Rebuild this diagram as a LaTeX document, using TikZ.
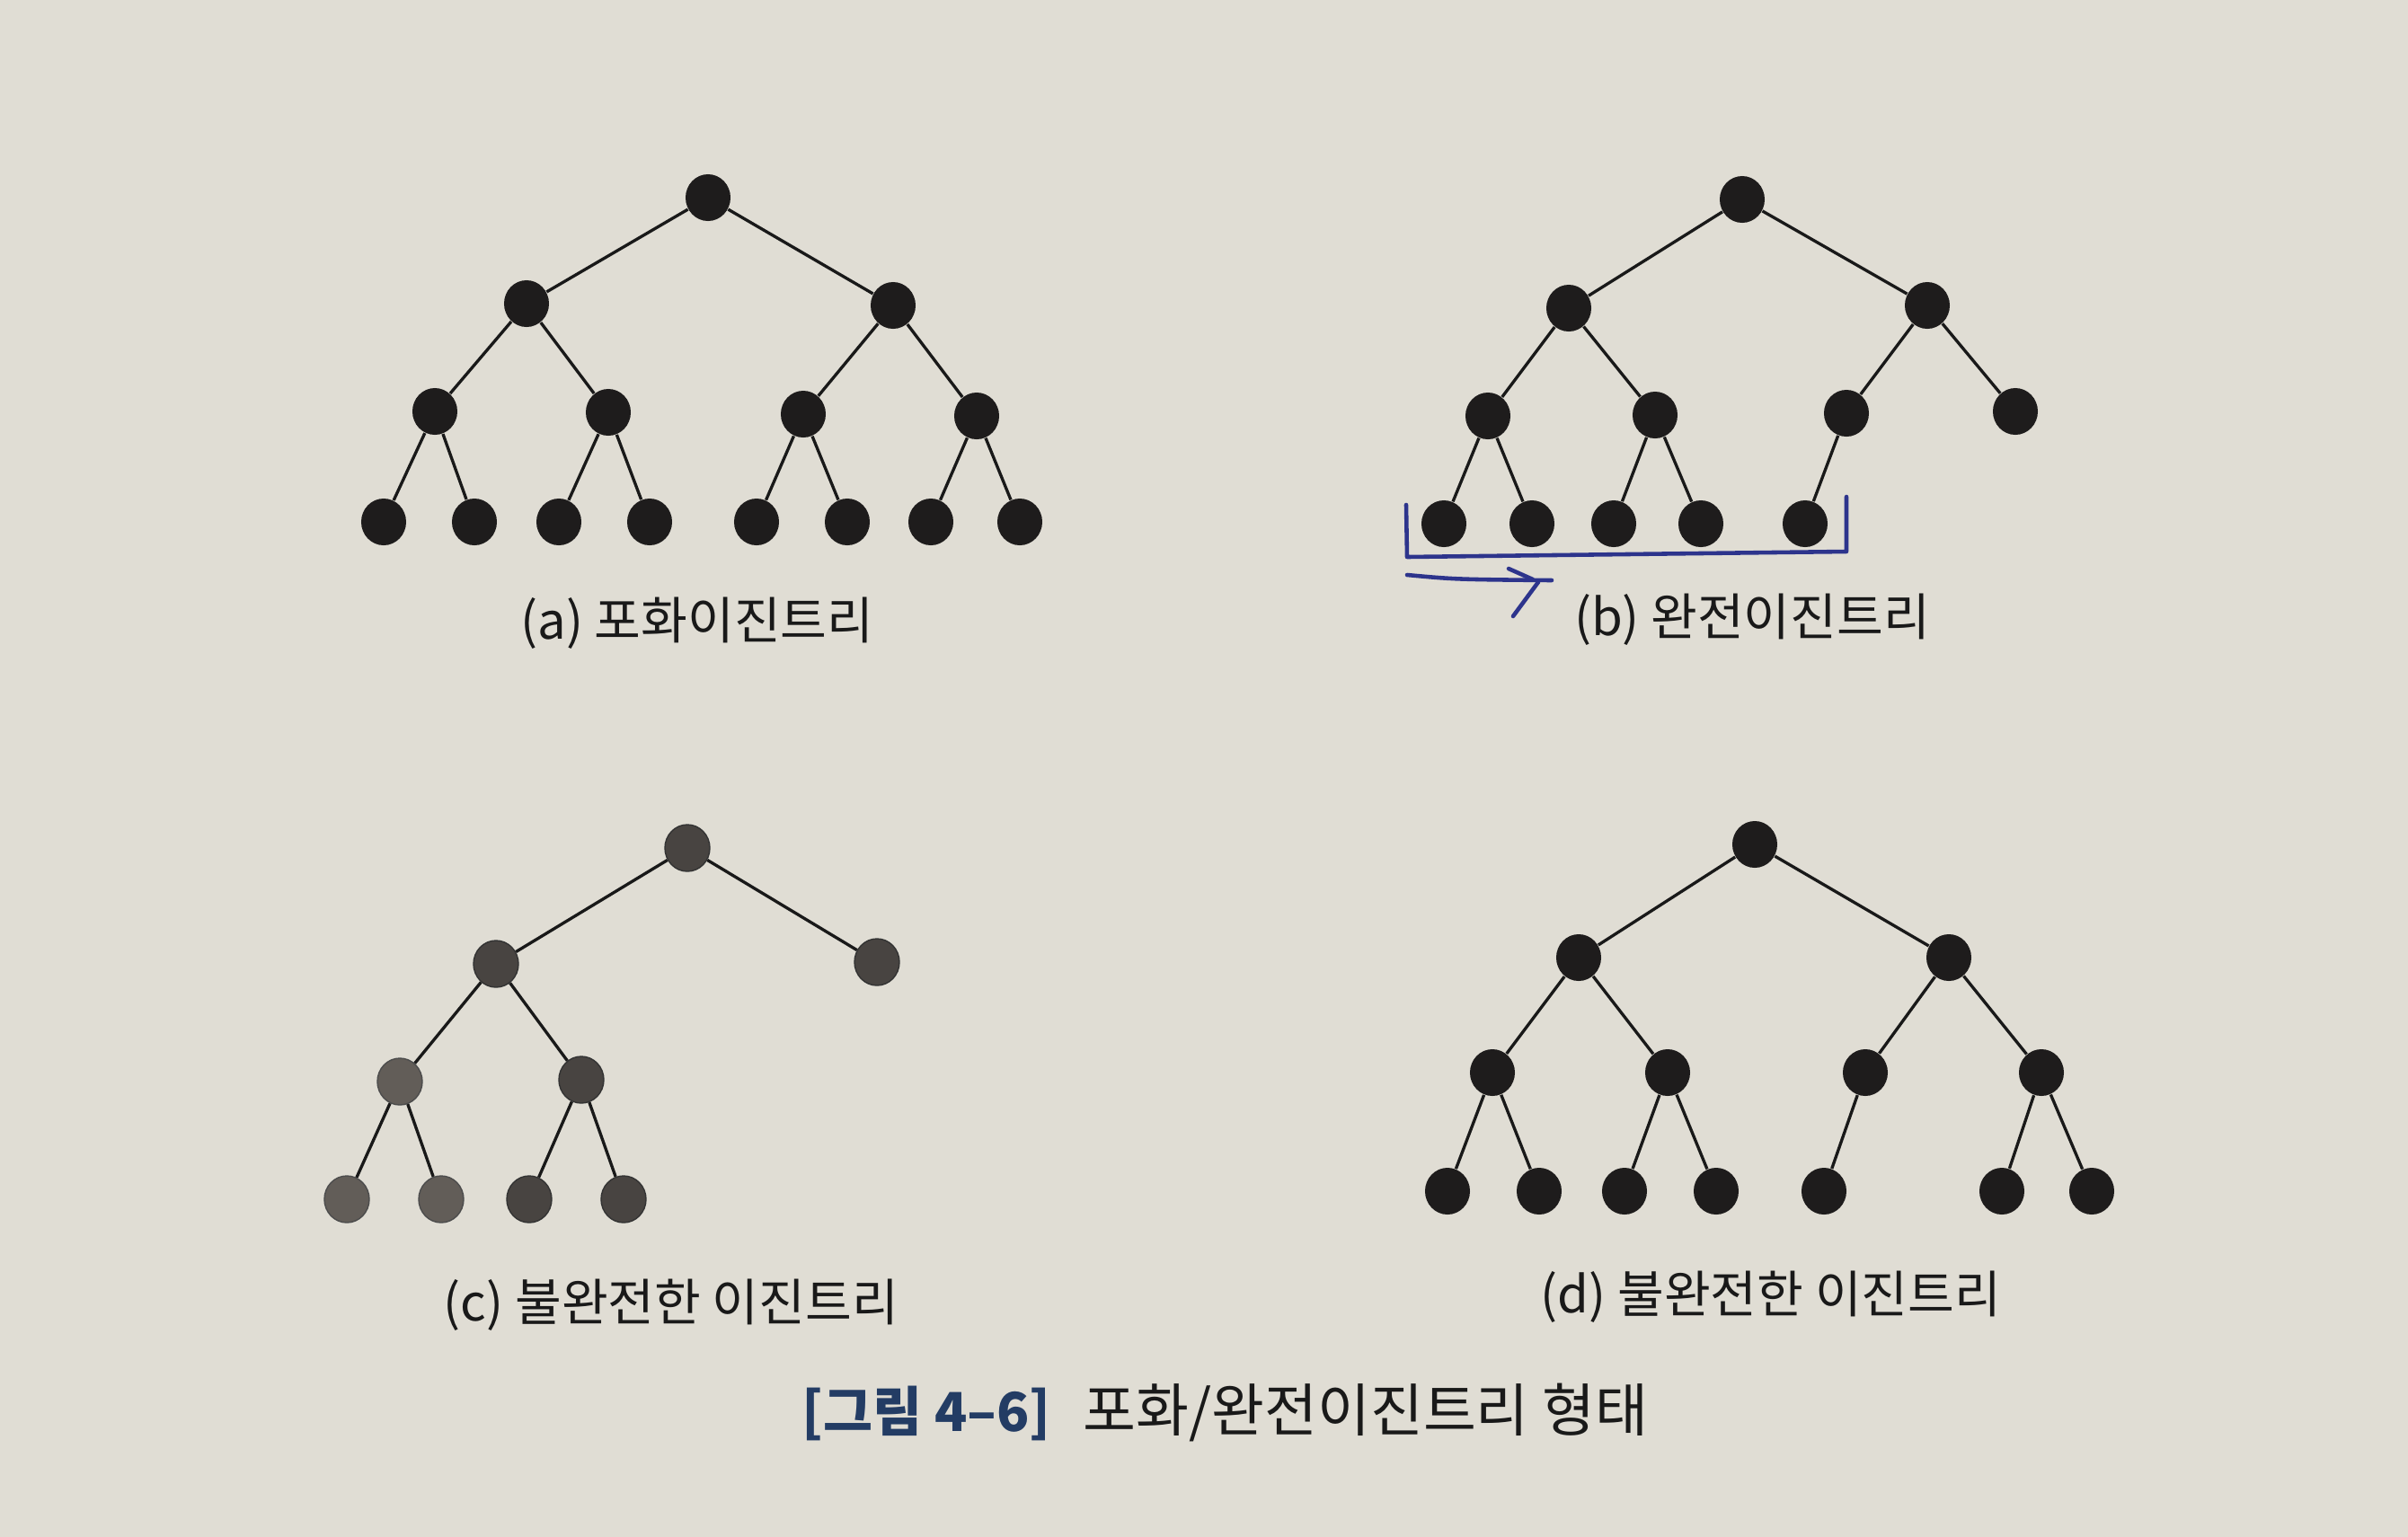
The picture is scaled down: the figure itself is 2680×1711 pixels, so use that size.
\documentclass[tikz,border=0pt]{standalone}
\usepackage{fontspec}
\usetikzlibrary{shapes.geometric}
\newfontfamily\kr{Noto Sans CJK KR}
\definecolor{paper}{RGB}{224,221,212}
\definecolor{nodeblack}{RGB}{30,28,28}
\definecolor{nodegrey}{RGB}{72,68,65}
\definecolor{nodegreyl}{RGB}{98,93,88}
\definecolor{pen}{RGB}{45,52,140}
\definecolor{capblue}{RGB}{35,60,100}
\begin{document}
\begin{tikzpicture}[x=0.01cm,y=-0.01cm,
  tn/.style={ellipse,fill=nodeblack,minimum width=0.5cm,minimum height=0.52cm,inner sep=0pt},
  gn/.style={tn,fill=nodegrey,draw=black!80,line width=0.4pt},
  gl/.style={tn,fill=nodegreyl,draw=black!70,line width=0.4pt},
  edge/.style={draw=black!90,line width=0.95pt},
  captext/.style={font=\kr\fontsize{16}{18}\selectfont,text=black!90,inner sep=0pt},
  penline/.style={draw=pen,line width=1.3pt,line cap=round,line join=round}]
\fill[paper] (0,0) rectangle (2680,1711);
\useasboundingbox (0,0) rectangle (2680,1711);

% ---------- (a) ----------
\node[tn] (a0) at (788,220) {};
\node[tn] (a1) at (586,338) {};
\node[tn] (a2) at (994,340) {};
\node[tn] (a3) at (484,458) {};
\node[tn] (a4) at (677,459) {};
\node[tn] (a5) at (894,461) {};
\node[tn] (a6) at (1087,463) {};
\node[tn] (a7) at (427,581) {};
\node[tn] (a8) at (528,581) {};
\node[tn] (a9) at (622,581) {};
\node[tn] (a10) at (723,581) {};
\node[tn] (a11) at (842,581) {};
\node[tn] (a12) at (943,581) {};
\node[tn] (a13) at (1036,581) {};
\node[tn] (a14) at (1135,581) {};
\foreach \p/\c in {a0/a1,a0/a2,a1/a3,a1/a4,a2/a5,a2/a6,a3/a7,a3/a8,a4/a9,a4/a10,a5/a11,a5/a12,a6/a13,a6/a14}
  \draw[edge] (\p) -- (\c);
\node[captext] (capa) at (776,694) {(a) 포화이진트리};

% ---------- (b) ----------
\node[tn] (b0) at (1939,222) {};
\node[tn] (b1) at (1746,343) {};
\node[tn] (b2) at (2145,340) {};
\node[tn] (b3) at (1656,463) {};
\node[tn] (b4) at (1842,462) {};
\node[tn] (b5) at (2055,460) {};
\node[tn] (b6) at (2243,458) {};
\node[tn] (b7) at (1607,583) {};
\node[tn] (b8) at (1705,583) {};
\node[tn] (b9) at (1796,583) {};
\node[tn] (b10) at (1893,583) {};
\node[tn] (b11) at (2009,583) {};
\foreach \p/\c in {b0/b1,b0/b2,b1/b3,b1/b4,b2/b5,b2/b6,b3/b7,b3/b8,b4/b9,b4/b10,b5/b11}
  \draw[edge] (\p) -- (\c);
\node[captext] (capb) at (1950,690) {(b) 완전이진트리};

% hand-drawn blue bracket and arrow
\coordinate (br1) at (1565,562);
\coordinate (br2) at (1566,620);
\coordinate (br3) at (2055,614);
\coordinate (br4) at (2055,553);
\draw[penline] (br1) -- (br2) -- (br3) -- (br4);
\coordinate (ar1) at (1566,640);
\coordinate (ar2) at (1727,646);
\coordinate (ab1) at (1679,633);
\coordinate (ab2) at (1706,645);
\coordinate (ab3) at (1712,648);
\coordinate (ab4) at (1684,686);
\draw[penline] (ar1) .. controls (1620,645) .. (ar2);
\draw[penline] (ab1) -- (ab2);
\draw[penline] (ab3) -- (ab4);

% ---------- (c) ----------
\node[gn] (c0) at (765,944) {};
\node[gn] (c1) at (552,1073) {};
\node[gn] (c2) at (976,1071) {};
\node[gl] (c3) at (445,1204) {};
\node[gn] (c4) at (647,1202) {};
\node[gl] (c5) at (386,1335) {};
\node[gl] (c6) at (491,1335) {};
\node[gn] (c7) at (589,1335) {};
\node[gn] (c8) at (694,1335) {};
\foreach \p/\c in {c0/c1,c0/c2,c1/c3,c1/c4,c3/c5,c3/c6,c4/c7,c4/c8}
  \draw[edge] (\p) -- (\c);
\node[captext] (capc) at (747,1453) {(c) 불완전한 이진트리};

% ---------- (d) ----------
\node[tn] (d0) at (1953,940) {};
\node[tn] (d1) at (1757,1066) {};
\node[tn] (d2) at (2169,1066) {};
\node[tn] (d3) at (1661,1194) {};
\node[tn] (d4) at (1856,1194) {};
\node[tn] (d5) at (2076,1194) {};
\node[tn] (d6) at (2272,1194) {};
\node[tn] (d7) at (1611,1326) {};
\node[tn] (d8) at (1713,1326) {};
\node[tn] (d9) at (1808,1326) {};
\node[tn] (d10) at (1910,1326) {};
\node[tn] (d11) at (2030,1326) {};
\node[tn] (d12) at (2228,1326) {};
\node[tn] (d13) at (2328,1326) {};
\foreach \p/\c in {d0/d1,d0/d2,d1/d3,d1/d4,d2/d5,d2/d6,d3/d7,d3/d8,d4/d9,d4/d10,d5/d11,d6/d12,d6/d13}
  \draw[edge] (\p) -- (\c);
\node[captext] (capd) at (1971,1444) {(d) 불완전한 이진트리};

% ---------- figure caption ----------
\node[captext,anchor=west,font=\kr\fontsize{17}{19}\selectfont] (figcap) at (892,1572)
  {{\bfseries\color{capblue}[그림 4–6]}\hspace{0.6em}{\fontsize{18.2}{20}\selectfont 포화/완전이진트리 형태}};
\end{tikzpicture}
\end{document}
